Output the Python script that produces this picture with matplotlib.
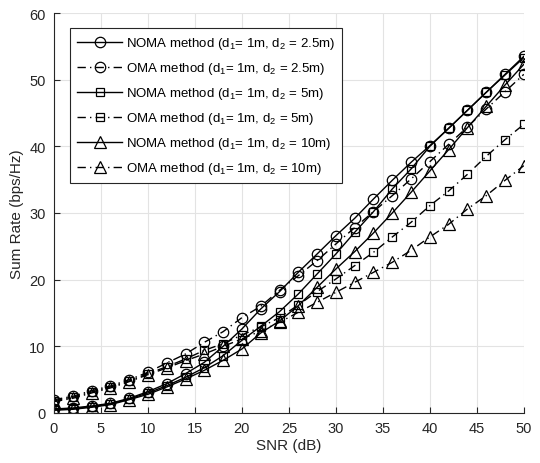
import numpy as np
import matplotlib
matplotlib.use("Agg")
import matplotlib.pyplot as plt

####################################################
### Data

snr = np.arange(0, 51, 2)

noma_25 = [0.6, 0.75, 1.05, 1.45, 2.2, 3.2, 4.4, 5.9, 7.6, 10.0, 12.6, 15.6, 18.2,
           21.1, 23.85, 26.6, 29.2, 32.1, 34.9, 37.6, 40.1, 42.7, 45.4, 48.1, 50.8, 53.5]
oma_25 = [2.0, 2.5, 3.35, 4.05, 5.0, 6.1, 7.5, 8.85, 10.6, 12.2, 14.3, 16.0, 18.4,
          20.6, 22.85, 25.35, 27.8, 30.2, 32.6, 35.1, 37.7, 40.3, 42.9, 45.6, 48.2, 50.8]
noma_5 = [0.5, 0.65, 0.95, 1.35, 2.1, 3.0, 4.1, 5.35, 6.8, 8.6, 10.9, 13.0, 15.2,
          17.85, 20.85, 23.85, 27.1, 30.2, 33.6, 36.6, 40.0, 42.7, 45.4, 48.1, 50.7, 53.3]
oma_5 = [1.85, 2.35, 3.15, 3.9, 4.8, 5.9, 6.95, 8.1, 9.4, 10.4, 11.7, 12.9, 14.3,
         16.2, 18.2, 20.1, 22.1, 24.1, 26.4, 28.6, 31.1, 33.3, 35.8, 38.5, 41.0, 43.3]
noma_10 = [0.4, 0.55, 0.85, 1.25, 2.0, 2.8, 3.9, 5.1, 6.4, 7.9, 9.6, 12.0, 13.8,
           16.1, 18.85, 21.6, 24.2, 27.0, 30.0, 33.1, 36.3, 39.5, 42.8, 46.0, 49.2, 52.3]
oma_10 = [1.7, 2.2, 3.0, 3.75, 4.7, 5.75, 6.75, 7.85, 8.85, 10.0, 11.1, 12.3, 13.6,
          15.1, 16.6, 18.1, 19.6, 21.1, 22.6, 24.4, 26.4, 28.3, 30.6, 32.6, 34.9, 37.1]

labels = [r"NOMA method (d$_1$= 1m, d$_2$ = 2.5m)",
          r"OMA method (d$_1$= 1m, d$_2$ = 2.5m)",
          r"NOMA method (d$_1$= 1m, d$_2$ = 5m)",
          r"OMA method (d$_1$= 1m, d$_2$ = 5m)",
          r"NOMA method (d$_1$= 1m, d$_2$ = 10m)",
          r"OMA method (d$_1$= 1m, d$_2$ = 10m)"]

####################################################
### Plot

matplotlib.rcParams['font.family'] = ['Liberation Sans', 'DejaVu Sans']
matplotlib.rcParams['mathtext.default'] = 'regular'

fig = plt.figure(figsize=(5.4, 4.64), dpi=100)
ax = fig.add_axes([0.1, 0.1078, 0.870, 0.862])

dashdot = (0, (6, 3, 1, 3))
series = [(noma_25, 'o', '-', 7.5), (oma_25, 'o', dashdot, 7.5),
          (noma_5, 's', '-', 6), (oma_5, 's', dashdot, 6),
          (noma_10, '^', '-', 8), (oma_10, '^', dashdot, 8)]

for (vals, mk, ls, ms), lab in zip(series, labels):
    ax.plot(snr, vals, color='k', linestyle=ls, linewidth=1.0, marker=mk,
            markersize=ms, markerfacecolor='none', markeredgecolor='k',
            markeredgewidth=0.9, label=lab)

ax.set_xlim(0, 50)
ax.set_ylim(0, 60)
ax.set_xticks(np.arange(0, 51, 5))
ax.set_yticks(np.arange(0, 61, 10))
ax.grid(True, color='#e3e3e3', linewidth=0.8)
ax.set_axisbelow(True)

for s in ['top', 'right']:
    ax.spines[s].set_visible(False)
for s in ['left', 'bottom']:
    ax.spines[s].set_color('#262626')
    ax.spines[s].set_linewidth(0.8)

ax.tick_params(direction='in', length=4, width=0.8, colors='#262626',
               labelsize=10.5, pad=6)
ax.set_xlabel("SNR (dB)", fontsize=11, color='#262626', labelpad=2)
ax.set_ylabel("Sum Rate (bps/Hz)", fontsize=11, color='#262626', labelpad=4)

leg = ax.legend(loc='upper left', bbox_to_anchor=(0.034, 0.9625), borderaxespad=0,
                fontsize=9.5, frameon=True, fancybox=False, framealpha=1,
                edgecolor='#262626', handlelength=3.4, handletextpad=0.3,
                labelspacing=0.68, borderpad=0.55)
leg.get_frame().set_linewidth(0.8)

fig.savefig('out.png', dpi=100)
